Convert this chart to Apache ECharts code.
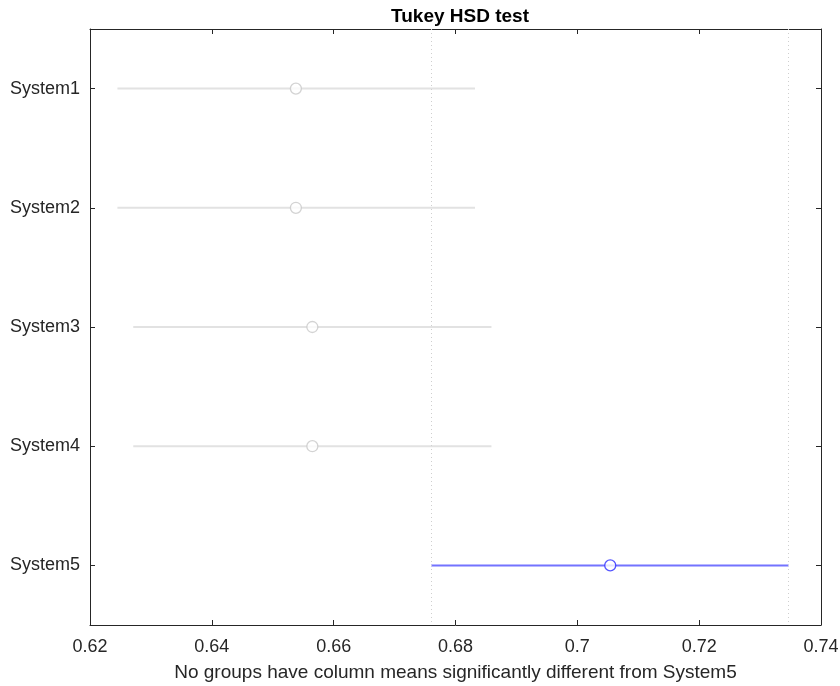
<!DOCTYPE html>
<html><head><meta charset="utf-8">
<script src="https://cdn.jsdelivr.net/npm/echarts@6/dist/echarts.min.js"></script>
<style>html,body{margin:0;padding:0;background:#fff}#c{width:840px;height:686px}</style>
</head><body><div id="c"></div>
<script>
const groups = ['System1','System2','System3','System4','System5'];
const means = [0.6538, 0.6538, 0.6565, 0.6565, 0.7054];
const lower = [0.6245, 0.6245, 0.6271, 0.6271, 0.6760];
const upper = [0.6832, 0.6832, 0.6859, 0.6859, 0.7347];
const xTicks = [0.62, 0.64, 0.66, 0.68, 0.70, 0.72, 0.74];
const selected = 4;
const titleText = 'Tukey HSD test';
const xLabel = 'No groups have column means significantly different from System5';

const FONT = 'Liberation Sans, Arial, Helvetica, sans-serif';
const axisCol = '#262626';
const chart = echarts.init(document.getElementById('c'));
const series = [];
groups.forEach((g, i) => {
  const sel = i === selected;
  const s = {
    type: 'line', xAxisIndex: 0, yAxisIndex: 0,
    data: [[lower[i], g], [upper[i], g]],
    symbol: 'none', silent: true, z: 2,
    lineStyle: { color: sel ? '#7373ff' : '#e2e2e2', width: 2 }
  };
  if (sel) {
    s.markLine = {
      symbol: 'none', silent: true, precision: 6, label: { show: false },
      lineStyle: { color: '#cfcfcf', type: [1, 3], width: 1 },
      data: [{ xAxis: lower[i] }, { xAxis: upper[i] }]
    };
  }
  series.push(s);
  series.push({
    type: 'scatter', xAxisIndex: 0, yAxisIndex: 0,
    data: [[means[i], g]], symbol: 'circle', symbolSize: 11, z: 3, silent: true,
    itemStyle: { color: '#ffffff', borderColor: sel ? '#2a2aff' : '#c8c8c8', borderWidth: 1.3 }
  });
});

const xa = (pos, show) => ({
  type: 'value', position: pos, min: xTicks[0], max: xTicks[xTicks.length - 1], interval: 0.02,
  axisLine: { show: true, onZero: false, lineStyle: { color: axisCol, width: 1 } },
  axisTick: { show: true, inside: true, length: 5, lineStyle: { color: axisCol } },
  axisLabel: { show: show, color: '#262626', fontSize: 18, fontFamily: FONT, margin: 13,
    hideOverlap: false, formatter: v => String(parseFloat(v.toFixed(2))) },
  splitLine: { show: false },
  name: show ? xLabel : '', nameLocation: 'middle', nameGap: 38,
  nameTextStyle: { color: '#262626', fontSize: 19, fontFamily: FONT }
});
const ya = (pos, show) => ({
  type: 'category', position: pos, data: groups, inverse: true,
  axisLine: { show: true, onZero: false, lineStyle: { color: axisCol, width: 1 } },
  axisTick: { show: true, inside: true, length: 5, alignWithLabel: true, lineStyle: { color: axisCol } },
  axisLabel: { show: show, color: '#262626', fontSize: 18, fontFamily: FONT, margin: 10 },
  splitLine: { show: false }
});

chart.setOption({
  animation: false,
  title: { text: titleText, left: 455, top: 2, textAlign: 'center',
    textStyle: { fontSize: 19, fontWeight: 'bold', color: '#000', fontFamily: FONT } },
  grid: { left: 90, right: 19, top: 29, bottom: 61, containLabel: false, outerBoundsMode: 'none' },
  xAxis: [xa('bottom', true), xa('top', false)],
  yAxis: [ya('left', true), ya('right', false)],
  series: series
});
</script></body></html>
